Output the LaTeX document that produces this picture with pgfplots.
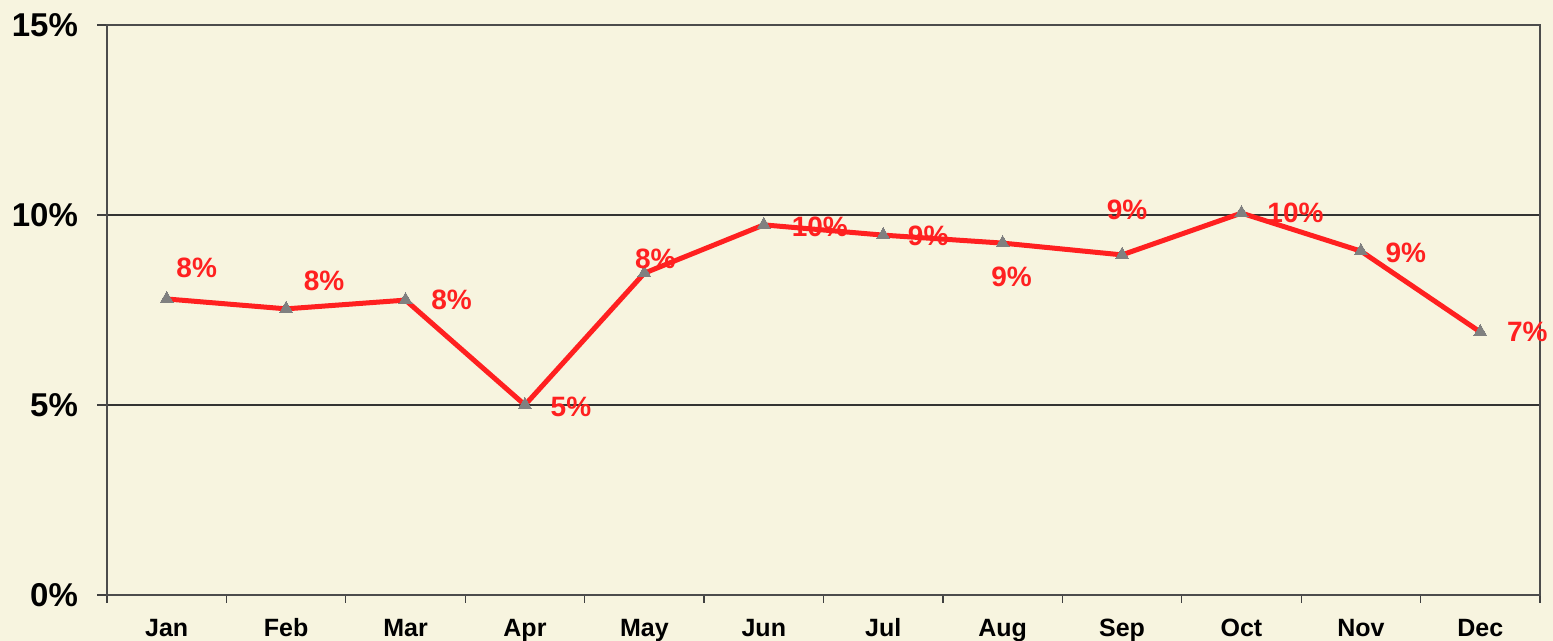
\documentclass[border=0pt]{standalone}
\usepackage{pgfplots}
\pgfplotsset{compat=1.18}
\usepackage{pgfplotstable}
\usepackage{fontspec}
\setmainfont{Liberation Sans}
\definecolor{bg}{HTML}{F7F4DF}
\definecolor{linered}{HTML}{FF2020}
\definecolor{mk}{HTML}{808080}

\pgfplotstableread{
x y lbl dx dy
0.5 7.79 8 15 15.5
1.5 7.53 8 19 14
2.5 7.76 8 23 0
3.5 5.00 5 23 -1
4.5 8.47 8 5.5 7
5.5 9.74 10 28 -1
6.5 9.47 9 22.5 -0.5
7.5 9.26 9 4.5 -17
8.5 8.95 9 2.5 22.5
9.5 10.05 10 27 0
10.5 9.05 9 22.5 -1
11.5 6.92 7 23.5 0
}\data

\begin{document}
\begin{tikzpicture}
\path[fill=bg, use as bounding box] (-53.5pt,-23pt) rectangle (723pt,297.5pt);
\begin{axis}[
  scale only axis, width=716.5pt, height=285pt,
  at={(0,0)}, anchor=south west,
  xmin=0, xmax=12, ymin=0, ymax=15,
  xtick={0.5,1.5,...,11.5},
  xticklabels={Jan,Feb,Mar,Apr,May,Jun,Jul,Aug,Sep,Oct,Nov,Dec},
  major x tick style={draw=none},
  minor xtick={0,1,...,12},
  ytick={0,5,10,15},
  yticklabels={0\%,5\%,10\%,15\%},
  tick align=outside, tick pos=left,
  major tick length=5pt, minor tick length=4pt,
  tick style={black!75, line width=0.6pt},
  ymajorgrids, grid style={black!80, line width=0.6pt},
  axis line style={black!70, line width=0.7pt},
  xticklabel style={font=\fontsize{12.5}{14}\selectfont\bfseries, yshift=-4.5pt,
    text height=0.75em, text depth=0.22em},
  yticklabel style={font=\fontsize{16.5}{18}\selectfont\bfseries, xshift=-6pt},
  axis background/.style={fill=bg},
  clip=false,
]
\addplot[linered, line width=2.5pt, mark=triangle*, mark size=3.8pt,
  mark options={fill=mk, draw=mk, line width=0pt},
  point meta=explicit symbolic,
  visualization depends on={\thisrow{dx} \as \dx},
  visualization depends on={\thisrow{dy} \as \dy},
  nodes near coords={\pgfplotspointmeta\%},
  nodes near coords style={anchor=center, xshift=\dx pt, yshift=\dy pt,
    text=linered, font=\fontsize{14}{16}\selectfont\bfseries},
] table[x=x, y=y, meta=lbl] {\data};
\end{axis}
\end{tikzpicture}
\end{document}
